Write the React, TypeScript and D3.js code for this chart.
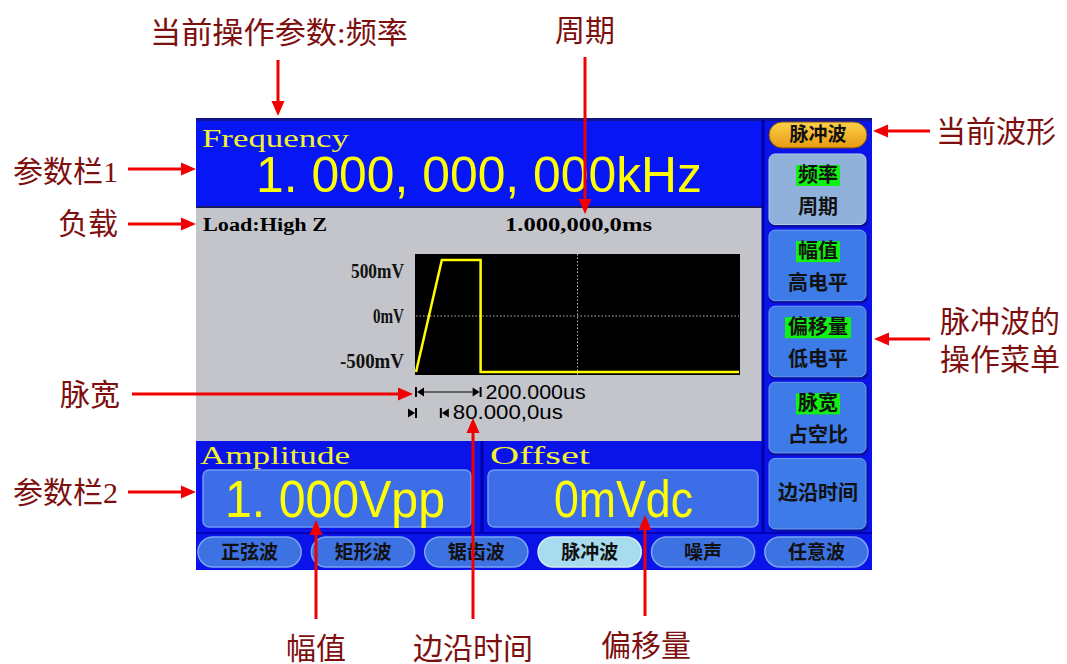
import React from 'react';
import * as d3 from 'd3';

// waveform preview (time in us, level in mV)
const waveTimes = [0, 80, 200, 200, 1000];
const waveLevels = [-500, 500, 500, -500, -500];
const levelTicks = [500, 0, -500];
const levelLabels = ['500mV', '0mV', '-500mV'];
const gridTimes = [500];
const gridLevels = [0];
const pulseWidth = 200;
const edgeTime = 80;

const menuTop = ['频率', '幅值', '偏移量', '脉宽', ''];
const menuBottom = ['周期', '高电平', '低电平', '占空比', '边沿时间'];
const waveTabs = ['正弦波', '矩形波', '锯齿波', '脉冲波', '噪声', '任意波'];
const currentWave = '脉冲波';

const RED = '#f00000';
const NOTE = '#7d0f0f';
const NOTE_FONT = '"Liberation Serif", "Noto Sans CJK SC", serif';
const CJK = '"Noto Sans CJK SC", sans-serif';

const Arrow: React.FC<{ x1: number; y1: number; x2: number; y2: number }> = ({ x1, y1, x2, y2 }) => {
  const a = Math.atan2(y2 - y1, x2 - x1);
  const len = 15, hw = 6.5;
  const bx = x2 - len * Math.cos(a), by = y2 - len * Math.sin(a);
  const px = -Math.sin(a) * hw, py = Math.cos(a) * hw;
  return (
    <g>
      <line x1={x1} y1={y1} x2={bx} y2={by} stroke={RED} strokeWidth={3} />
      <polygon points={`${x2},${y2} ${bx + px},${by + py} ${bx - px},${by - py}`} fill={RED} />
    </g>
  );
};

const App: React.FC = () => {
  const xScale = d3.scaleLinear().domain([0, 1000]).range([416, 739]);
  const yScale = d3.scaleLinear().domain([-527, 554]).range([375, 254]);

  const wave = d3.line<number>()
    .x((d, i) => xScale(waveTimes[i]))
    .y(d => yScale(d));

  const menuBand = d3.scaleBand<number>().domain(d3.range(menuBottom.length)).range([154, 530]).paddingInner(0.06);
  const tabBand = d3.scaleBand<string>().domain(waveTabs).range([198, 868]).paddingInner(0.09);

  const x0 = xScale(0), xw = xScale(pulseWidth), xe = xScale(edgeTime);

  // bar with a triangle touching it on the given side
  const marker = (x: number, y: number, side: 'right' | 'left', key: string) => {
    const s = side === 'right' ? 1 : -1;
    return (
      <g key={key}>
        <line x1={x} y1={y - 5} x2={x} y2={y + 5} stroke="#000" strokeWidth={2} />
        <polygon points={`${x + s},${y} ${x + s * 8},${y - 4.5} ${x + s * 8},${y + 4.5}`} fill="#000" />
      </g>
    );
  };

  return (
    <svg width={1067} height={664} style={{ position: 'absolute', left: 0, top: 0, background: '#fff' }}>
      <defs>
        <linearGradient id="orange" x1="0" y1="0" x2="0" y2="1">
          <stop offset="0" stopColor="#fcd04a" />
          <stop offset="1" stopColor="#e89a12" />
        </linearGradient>
      </defs>

      {/* screen frame */}
      <rect x={196} y={118} width={676} height={452} fill="#0a14e8" />
      <rect x={196} y={118} width={676} height={3} fill="#14148a" />
      <rect x={196} y={121} width={566} height={86} fill="#0616f4" />
      <rect x={196} y={206} width={566} height={2} fill="#1a1a60" />
      <rect x={196} y={208} width={566} height={233} fill="#c3c5cb" />
      <line x1={763} y1={120} x2={763} y2={533} stroke="#0000a8" strokeWidth={3} />
      <line x1={482} y1={441} x2={482} y2={533} stroke="#0000a8" strokeWidth={3} />
      <line x1={196} y1={533} x2={872} y2={533} stroke="#0000b4" strokeWidth={2} />

      {/* parameter bar 1 */}
      <text x={202} y={147} fontFamily='"Liberation Serif", serif' fontSize={25} fill="#f2f230"
        textLength={147} lengthAdjust="spacingAndGlyphs">Frequency</text>
      <text x={256} y={192} fontFamily='"Liberation Sans", Arial, sans-serif' fontSize={50} fill="#ffff00"
        textLength={446} lengthAdjust="spacingAndGlyphs">1. 000, 000, 000kHz</text>

      {/* load / period */}
      <text x={203} y={231} fontFamily='"Liberation Serif", serif' fontWeight="bold" fontSize={18.5} fill="#000"
        textLength={124} lengthAdjust="spacingAndGlyphs">Load:High Z</text>
      <text x={505} y={231} fontFamily='"Liberation Serif", serif' fontWeight="bold" fontSize={18.5} fill="#000"
        textLength={147} lengthAdjust="spacingAndGlyphs">1.000,000,0ms</text>

      {/* waveform preview */}
      <rect x={xScale(0) - 1} y={yScale.range()[1]} width={xScale(1000) - xScale(0) + 2}
        height={yScale.range()[0] - yScale.range()[1]} fill="#000" />
      {gridLevels.map(v => (
        <line key={`gl${v}`} x1={xScale(0)} x2={xScale(1000)} y1={yScale(v)} y2={yScale(v)}
          stroke="#b8b8b8" strokeWidth={1} strokeDasharray="1.5,2" />
      ))}
      {gridTimes.map(t => (
        <line key={`gt${t}`} x1={xScale(t)} x2={xScale(t)} y1={yScale.range()[1]} y2={yScale.range()[0]}
          stroke="#b8b8b8" strokeWidth={1} strokeDasharray="1.5,2" />
      ))}
      <path d={wave(waveLevels) || ''} fill="none" stroke="#ffff00" strokeWidth={2.5} />
      {levelTicks.map((v, i) => (
        <text key={`lt${v}`} x={404} y={yScale(v * 0.8) + 7} textAnchor="end"
          fontFamily='"Liberation Serif", serif' fontWeight="bold" fontSize={20} fill="#111"
          textLength={[53, 31, 64][i]} lengthAdjust="spacingAndGlyphs">{levelLabels[i]}</text>
      ))}

      {/* pulse width / edge time markers */}
      {marker(x0, 392, 'right', 'm1')}
      <line x1={x0 + 8} y1={392} x2={xw - 8} y2={392} stroke="#000" strokeWidth={1} />
      {marker(xw, 392, 'left', 'm2')}
      <text x={xw + 5} y={399} fontFamily='"Liberation Sans", Arial, sans-serif' fontSize={20} fill="#000"
        textLength={100} lengthAdjust="spacingAndGlyphs">200.000us</text>
      {marker(x0, 413, 'left', 'm3')}
      {marker(xe - 1, 413, 'right', 'm4')}
      <text x={xe + 11} y={419} fontFamily='"Liberation Sans", Arial, sans-serif' fontSize={20} fill="#000"
        textLength={110} lengthAdjust="spacingAndGlyphs">80.000,0us</text>

      {/* parameter bar 2 */}
      <text x={200} y={464} fontFamily='"Liberation Serif", serif' fontSize={25} fill="#f2f230"
        textLength={150} lengthAdjust="spacingAndGlyphs">Amplitude</text>
      <text x={490} y={464} fontFamily='"Liberation Serif", serif' fontSize={25} fill="#f2f230"
        textLength={100} lengthAdjust="spacingAndGlyphs">Offset</text>
      <rect x={203} y={470} width={268} height={57} rx={6} fill="#3d6ee8" stroke="#6f9af2" strokeWidth={1.5} />
      <rect x={488} y={470} width={270} height={57} rx={6} fill="#3d6ee8" stroke="#6f9af2" strokeWidth={1.5} />
      <text x={225} y={517} fontFamily='"Liberation Sans", Arial, sans-serif' fontSize={52} fill="#ffff00"
        textLength={220} lengthAdjust="spacingAndGlyphs">1. 000Vpp</text>
      <text x={554} y={517} fontFamily='"Liberation Sans", Arial, sans-serif' fontSize={52} fill="#ffff00"
        textLength={139} lengthAdjust="spacingAndGlyphs">0mVdc</text>

      {/* right-hand menu */}
      <rect x={769} y={122} width={98} height={26} rx={13} fill="url(#orange)" stroke="#7a4a08" strokeWidth={1} />
      <text x={818} y={141} textAnchor="middle" fontFamily={CJK} fontWeight="bold" fontSize={19} fill="#111">{currentWave}</text>
      {menuBottom.map((label, i) => {
        const y = menuBand(i) as number;
        const h = menuBand.bandwidth();
        const top = menuTop[i];
        return (
          <g key={`menu${i}`}>
            <rect x={769} y={y + 1.5} width={99} height={h} rx={6} fill="#0a0c9a" />
            <rect x={769} y={y} width={97} height={h - 1} rx={6}
              fill={i === 0 ? '#8fb1da' : '#3c7be8'} stroke={i === 0 ? '#b6cde8' : '#6e9ef2'} strokeWidth={1} />
            {top ? (
              <g>
                <rect x={818 - top.length * 11} y={y + 11} width={top.length * 22} height={21} fill="#12f212" />
                <text x={818} y={y + 28} textAnchor="middle" fontFamily={CJK} fontWeight="bold" fontSize={20} fill="#111">{top}</text>
                <text x={818} y={y + 60} textAnchor="middle" fontFamily={CJK} fontWeight="bold" fontSize={20} fill="#111">{label}</text>
              </g>
            ) : (
              <text x={818} y={y + 42} textAnchor="middle" fontFamily={CJK} fontWeight="bold" fontSize={20} fill="#111">{label}</text>
            )}
          </g>
        );
      })}

      {/* bottom waveform tabs */}
      {waveTabs.map(t => {
        const x = tabBand(t) as number;
        const sel = t === currentWave;
        return (
          <g key={`tab${t}`}>
            <rect x={x} y={537} width={tabBand.bandwidth()} height={30} rx={15}
              fill={sel ? '#a6dcee' : '#3d72e2'} stroke={sel ? '#d4eef8' : '#7aa5f2'} strokeWidth={1.5} />
            <text x={x + tabBand.bandwidth() / 2} y={559} textAnchor="middle" fontFamily={CJK}
              fontWeight="bold" fontSize={19} fill="#111">{t}</text>
          </g>
        );
      })}

      {/* annotations */}
      <text x={279} y={43} textAnchor="middle" fontFamily={NOTE_FONT} fontSize={30} fill={NOTE}
        textLength={258} lengthAdjust="spacingAndGlyphs">当前操作参数:频率</text>
      <Arrow x1={278} y1={60} x2={278} y2={116} />
      <text x={585} y={41} textAnchor="middle" fontFamily={NOTE_FONT} fontSize={30} fill={NOTE}>周期</text>
      <Arrow x1={585} y1={57} x2={585} y2={214} />

      <text x={118} y={182} textAnchor="end" fontFamily={NOTE_FONT} fontSize={30} fill={NOTE}>参数栏1</text>
      <Arrow x1={128} y1={169} x2={196} y2={169} />
      <text x={118} y={234} textAnchor="end" fontFamily={NOTE_FONT} fontSize={30} fill={NOTE}>负载</text>
      <Arrow x1={128} y1={224} x2={196} y2={224} />
      <text x={120} y={405} textAnchor="end" fontFamily={NOTE_FONT} fontSize={30} fill={NOTE}>脉宽</text>
      <Arrow x1={132} y1={394} x2={413} y2={394} />
      <text x={118} y={503} textAnchor="end" fontFamily={NOTE_FONT} fontSize={30} fill={NOTE}>参数栏2</text>
      <Arrow x1={128} y1={492} x2={196} y2={492} />

      <text x={936} y={142} fontFamily={NOTE_FONT} fontSize={30} fill={NOTE}>当前波形</text>
      <Arrow x1={930} y1={131} x2={873} y2={131} />
      <text x={940} y={332} fontFamily={NOTE_FONT} fontSize={30} fill={NOTE}>脉冲波的</text>
      <text x={940} y={370} fontFamily={NOTE_FONT} fontSize={30} fill={NOTE}>操作菜单</text>
      <Arrow x1={930} y1={339} x2={874} y2={339} />

      <Arrow x1={316} y1={619} x2={316} y2={520} />
      <text x={316} y={659} textAnchor="middle" fontFamily={NOTE_FONT} fontSize={30} fill={NOTE}>幅值</text>
      <Arrow x1={473} y1={619} x2={473} y2={418} />
      <text x={473} y={659} textAnchor="middle" fontFamily={NOTE_FONT} fontSize={30} fill={NOTE}>边沿时间</text>
      <Arrow x1={645} y1={616} x2={645} y2={515} />
      <text x={646} y={656} textAnchor="middle" fontFamily={NOTE_FONT} fontSize={30} fill={NOTE}>偏移量</text>
    </svg>
  );
};

export default App;
